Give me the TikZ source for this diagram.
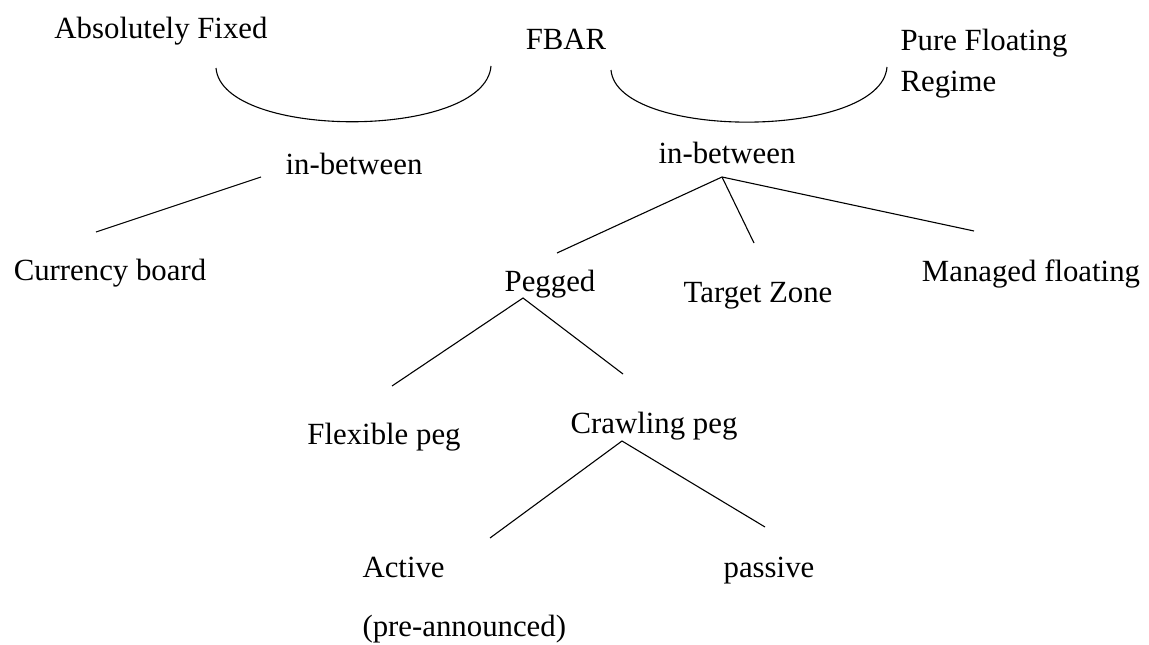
\documentclass[tikz,border=0pt]{standalone}
\usepackage{fontspec}
\setmainfont{Liberation Serif}
\usepackage{tikz}
\usetikzlibrary{calc}

\begin{document}
\begin{tikzpicture}[x=1pt,y=-1pt,line width=1.1pt,
  every node/.style={inner sep=0pt,font=\fontsize{30.8pt}{41pt}\selectfont}]
% units are pixels of the page, y runs downwards
\useasboundingbox (0,0) rectangle (1149,645);
\node[anchor=base] (absfix) at (161,38) {Absolutely Fixed};
\node[anchor=base] (fbar) at (566,49) {FBAR};
\node[anchor=base west,align=left] (purefloat) at (900,91) {Pure Floating\\Regime};
\node[anchor=base] (inbetL) at (354,174) {in-between};
\node[anchor=base] (inbetR) at (727,163) {in-between};
\node[anchor=base] (board) at (110,280) {Currency board};
\node[anchor=base] (pegged) at (550,291) {Pegged};
\node[anchor=base] (target) at (758,302) {Target Zone};
\node[anchor=base] (managed) at (1031,281) {Managed floating};
\node[anchor=base] (flexpeg) at (384,444) {Flexible peg};
\node[anchor=base] (crawlpeg) at (654,433) {Crawling peg};
\node[anchor=base west,align=left] (active) at (362,636) {Active\\[18pt](pre-announced)};
\node[anchor=base] (passive) at (769,577) {passive};
% the two bowls between the extremes and FBAR
\coordinate (arcL a) at (216,68);
\coordinate (arcL b) at (491,66);
\coordinate (arcR a) at (611,70);
\coordinate (arcR b) at (887,67);
\draw (arcL a) .. controls ($(arcL a)+(6,72)$) and ($(arcL b)+(-6,74)$) .. (arcL b);
\draw (arcR a) .. controls ($(arcR a)+(6,70)$) and ($(arcR b)+(-6,73)$) .. (arcR b);
% branch ends
\coordinate (inbetL foot) at (261,177);
\coordinate (board top) at (96,232);
\coordinate (inbetR foot) at (722,177);
\coordinate (pegged top) at (557,253);
\coordinate (target top) at (754,243);
\coordinate (managed top) at (974,231);
\coordinate (pegged foot) at (523,298);
\coordinate (flexpeg top) at (392,386);
\coordinate (crawlpeg top) at (623,374);
\coordinate (crawlpeg foot) at (622,441);
\coordinate (active top) at (490,538);
\coordinate (passive top) at (765,527);
\draw (inbetL foot) -- (board top);
\draw (pegged top) -- (inbetR foot) -- (managed top);
\draw (inbetR foot) -- (target top);
\draw (flexpeg top) -- (pegged foot) -- (crawlpeg top);
\draw (active top) -- (crawlpeg foot) -- (passive top);
\end{tikzpicture}
\end{document}
